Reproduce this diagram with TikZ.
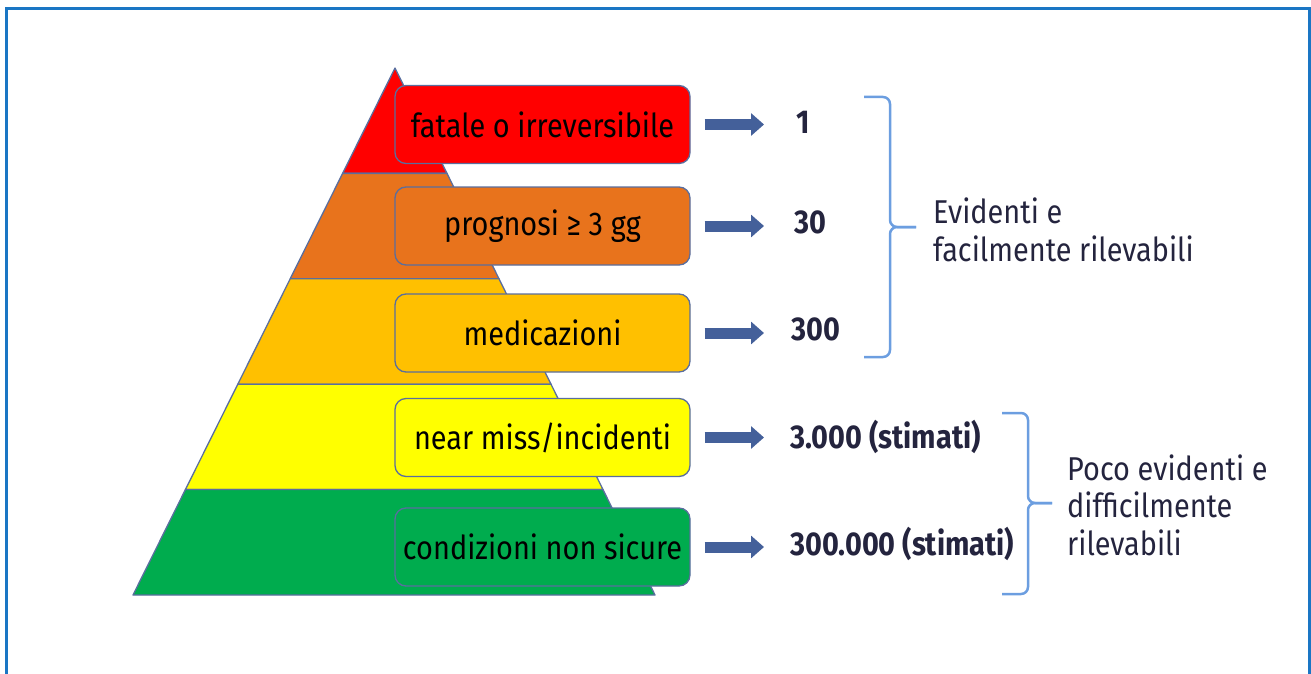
\documentclass[tikz,border=0pt]{standalone}
\usepackage{fontspec}
\setmainfont{Fira Sans}[FakeStretch=0.875]
\usetikzlibrary{arrows.meta,calc}

\definecolor{lvlred}{HTML}{FF0000}
\definecolor{lvlorange}{HTML}{E8731C}
\definecolor{lvlamber}{HTML}{FFC000}
\definecolor{lvlyellow}{HTML}{FFFF00}
\definecolor{lvlgreen}{HTML}{00AC4E}
\definecolor{edgeblue}{HTML}{5A6E9E}
\definecolor{arrowblue}{HTML}{44609A}
\definecolor{braceblue}{HTML}{6C9EE0}
\definecolor{framecol}{HTML}{1A76C4}
\definecolor{inknavy}{HTML}{24243E}

\tikzset{
  band/.style={draw=edgeblue, line width=1.3pt, line join=round},
  levelbox/.style={draw=edgeblue, line width=1.3pt, rounded corners=11pt,
    minimum width=295pt, minimum height=78pt,
    font=\fontsize{33}{37}\selectfont, text=black},
  count/.style={anchor=base west, inner sep=0pt,
    font=\fontsize{33}{37}\selectfont\bfseries, text=inknavy},
  fatarrow/.style={draw=arrowblue, line width=11pt,
    -{Triangle[length=13pt,width=22pt]}, shorten <=14pt, shorten >=27pt},
  brace/.style={draw=braceblue, line width=2.5pt, rounded corners=7pt},
  note/.style={anchor=west, inner sep=0pt, align=left,
    font=\fontsize{33}{37.5}\selectfont, text=inknavy}
}

\begin{document}
\begin{tikzpicture}[x=1pt,y=-1pt]
\useasboundingbox (0,0) rectangle (1311,674);
\draw[framecol, line width=3pt] (6,680) -- (6,9) -- (1309,9) -- (1309,680);

% pyramid, five bands from the top
\coordinate (apex) at (395,68);
\coordinate (baseL) at (133,595);
\coordinate (baseR) at (655,595);
\foreach \c [count=\i from 0] in {lvlred,lvlorange,lvlamber,lvlyellow,lvlgreen}{
  \pgfmathsetmacro\ta{\i/5}
  \pgfmathsetmacro\tb{(\i+1)/5}
  \filldraw[band, fill=\c] ($(apex)!\ta!(baseL)$) -- ($(apex)!\tb!(baseL)$)
    -- ($(apex)!\tb!(baseR)$) -- ($(apex)!\ta!(baseR)$) -- cycle;
}

\node[levelbox, fill=lvlred] (fatale) at (542.5,124.5) {fatale o irreversibile};
\node[levelbox, fill=lvlorange] (prognosi) at (542.5,226) {prognosi ≥ 3 gg};
\node[levelbox, fill=lvlamber] (medic) at (542.5,333) {medicazioni};
\node[levelbox, fill=lvlyellow] (nearmiss) at (542.5,437.5) {near miss/incidenti};
\node[levelbox, fill=lvlgreen] (condiz) at (542.5,547) {condizioni non sicure};

\node[count] (n1) at (796,133) {1};
\node[count] (n30) at (794,233) {30};
\node[count] (n300) at (791,340) {300};
\node[count] (n3k) at (790,448) {3.000 (stimati)};
\node[count] (n300k) at (790,555) {300.000 (stimati)};

\draw[fatarrow] (fatale) -- (fatale -| n300.west);
\draw[fatarrow] (prognosi) -- (prognosi -| n300.west);
\draw[fatarrow] (medic) -- (medic -| n300.west);
\draw[fatarrow] (nearmiss) -- (nearmiss -| n300.west);
\draw[fatarrow] (condiz) -- (condiz -| n300.west);

% braces
\draw[brace] (864,97) -| (890,227) -- (916,227);
\draw[brace] (864,357) -| (890,227) -- (916,227);
\draw[brace] (1002,413) -| (1028,503) -- (1052,503);
\draw[brace] (1002,594) -| (1028,503) -- (1052,503);

\node[note] (evid) at (933,230) {Evidenti e\\facilmente rilevabili};
\node[note] (poco) at (1067,505) {Poco evidenti e\\difficilmente\\rilevabili};
\end{tikzpicture}
\end{document}
